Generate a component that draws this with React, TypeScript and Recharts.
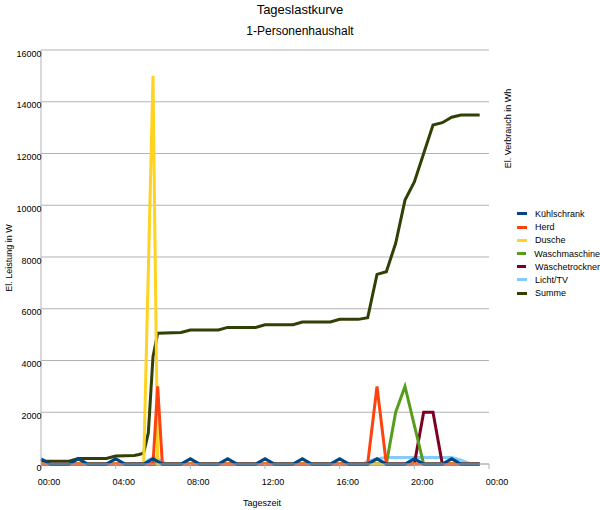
import React from 'react';
import { LineChart, Line, XAxis, YAxis, CartesianGrid, Legend } from 'recharts';

const FONT = '"Liberation Sans", Arial, sans-serif';

// X axis (hours of the day) and tick labels
const hourTicks = [0, 4, 8, 12, 16, 20, 24];
const hourLabels = ['00:00', '04:00', '08:00', '12:00', '16:00', '20:00', '00:00'];
const powerTicks = [0, 2000, 4000, 6000, 8000, 10000, 12000, 14000, 16000];

// Series: [hour, value]
const kuehlschrank: [number, number][] = [
  [0, 200], [0.5, 0], [1.5, 0], [2, 200], [2.5, 0], [3.5, 0], [4, 200], [4.5, 0],
  [5.5, 0], [6, 200], [6.5, 0], [7.5, 0], [8, 200], [8.5, 0], [9.5, 0], [10, 200],
  [10.5, 0], [11.5, 0], [12, 200], [12.5, 0], [13.5, 0], [14, 200], [14.5, 0],
  [15.5, 0], [16, 200], [16.5, 0], [17.5, 0], [18, 200], [18.5, 0], [19.5, 0],
  [20, 200], [20.5, 0], [21.5, 0], [22, 200], [22.5, 0], [23.5, 0],
];
const herd: [number, number][] = [
  [0, 0], [6, 0], [6.25, 3000], [6.5, 0], [17.5, 0], [18, 3000], [18.5, 0], [23.5, 0],
];
const dusche: [number, number][] = [
  [0, 0], [5.5, 0], [6, 15000], [6.25, 0], [23.5, 0],
];
const waschmaschine: [number, number][] = [
  [0, 0], [18.5, 0], [19, 2000], [19.5, 3000], [20.5, 0], [23.5, 0],
];
const waeschetrockner: [number, number][] = [
  [0, 0], [20, 0], [20.5, 2000], [21, 2000], [21.5, 0], [23.5, 0],
];
const lichtTv: [number, number][] = [
  [0, 0], [5.5, 0], [5.75, 150], [6, 250], [6.25, 200], [6.5, 80], [6.75, 0],
  [17.25, 0], [17.5, 100], [18, 200], [18.5, 250], [22, 250], [22.5, 150], [23, 0], [23.5, 0],
];
const summe: [number, number][] = [
  [0, 110], [1.5, 110], [2, 210], [3.5, 210], [4, 310], [5, 330], [5.25, 370], [5.5, 420],
  [5.75, 1200], [6, 4150], [6.25, 5050], [7.5, 5080], [8, 5180], [9.5, 5180], [10, 5280],
  [11.5, 5280], [12, 5380], [13.5, 5380], [14, 5490], [15.5, 5490], [16, 5590], [17, 5590],
  [17.5, 5650], [18, 7330], [18.5, 7430], [19, 8530], [19.5, 10200], [20, 10900],
  [20.5, 12000], [21, 13100], [21.5, 13190], [22, 13400], [22.5, 13490], [23.5, 13490],
];

const seriesNames = ['Kühlschrank', 'Herd', 'Dusche', 'Waschmaschine', 'Wäschetrockner', 'Licht/TV', 'Summe'];
const seriesColors = ['#004586', '#ff420e', '#ffd320', '#579d1c', '#7e0021', '#83caff', '#314004'];
const seriesData = [kuehlschrank, herd, dusche, waschmaschine, waeschetrockner, lichtTv, summe];

const toPoints = (s: [number, number][]) => s.map(([t, v]) => ({ t, v }));

const XTick = (props: any) => {
  const { x, y, index } = props;
  return (
    <text x={x + 8} y={y + 14} textAnchor="middle" fontSize={9} fontFamily={FONT} fill="#000">
      {hourLabels[index] ?? ''}
    </text>
  );
};

const YTick = (props: any) => {
  const { x, y, payload } = props;
  return (
    <text x={x + 0.5} y={y + 6.5} textAnchor="end" fontSize={9} fontFamily={FONT} fill="#000">
      {payload.value}
    </text>
  );
};

const LegendBox = () => (
  <div style={{ fontFamily: FONT, fontSize: 9, color: '#000' }}>
    {seriesNames.map((n, i) => (
      <div key={n} style={{ display: 'flex', alignItems: 'center', height: 13.2 }}>
        <div style={{ width: 10, height: 3, background: seriesColors[i], marginLeft: 2.5, marginRight: 8.5 }} />
        <span style={{ whiteSpace: 'nowrap' }}>{n}</span>
      </div>
    ))}
  </div>
);

export default function App() {
  const order = [6, 5, 4, 3, 2, 1, 0];
  return (
    <div style={{ position: 'absolute', left: 0, top: 0, width: 600, height: 510, background: '#fff', fontFamily: FONT }}>
      <LineChart width={600} height={510} margin={{ top: 50, right: 111, bottom: 16, left: 5 }}>
        <CartesianGrid vertical={false} stroke="#b3b3b3" />
        <XAxis
          type="number"
          dataKey="t"
          domain={[0, 24]}
          ticks={hourTicks}
          interval={0}
          height={30}
          tickSize={5}
          tickMargin={2}
          axisLine={{ stroke: '#b3b3b3' }}
          tickLine={{ stroke: '#b3b3b3' }}
          tick={<XTick />}
        />
        <YAxis
          type="number"
          domain={[0, 16000]}
          ticks={powerTicks}
          interval={0}
          width={36}
          tickSize={0}
          tickMargin={0}
          tickLine={false}
          axisLine={{ stroke: '#b3b3b3' }}
          tick={<YTick />}
        />
        <YAxis
          yAxisId="right"
          orientation="right"
          type="number"
          domain={[0, 16000]}
          width={0}
          tick={false}
          tickLine={false}
          axisLine={{ stroke: '#b3b3b3' }}
        />
        {order.map((i) => (
          <Line
            key={seriesNames[i]}
            name={seriesNames[i]}
            data={toPoints(seriesData[i])}
            dataKey="v"
            yAxisId={i === 6 ? 'right' : 0}
            type="linear"
            stroke={seriesColors[i]}
            strokeWidth={3}
            dot={false}
            activeDot={false}
            isAnimationActive={false}
          />
        ))}
        <Legend
          layout="horizontal"
          verticalAlign="middle"
          align="center"
          content={<LegendBox />}
          wrapperStyle={{ left: 514, top: 207.4, width: 86, height: 93 }}
        />
        <text x={300} y={14} textAnchor="middle" fontSize={13} fontFamily={FONT} fill="#000">Tageslastkurve</text>
        <text x={300} y={35} textAnchor="middle" fontSize={12} fontFamily={FONT} fill="#000">1-Personenhaushalt</text>
        <text x={262} y={506} textAnchor="middle" fontSize={9} fontFamily={FONT} fill="#000">Tageszeit</text>
        <text x={11.5} y={258} textAnchor="middle" fontSize={9} fontFamily={FONT} fill="#000" transform="rotate(-90 11.5 258)">El. Leistung in W</text>
        <text x={511} y={128.5} textAnchor="middle" fontSize={9} fontFamily={FONT} fill="#000" transform="rotate(-90 511 128.5)">El. Verbrauch in Wh</text>
      </LineChart>
    </div>
  );
}
